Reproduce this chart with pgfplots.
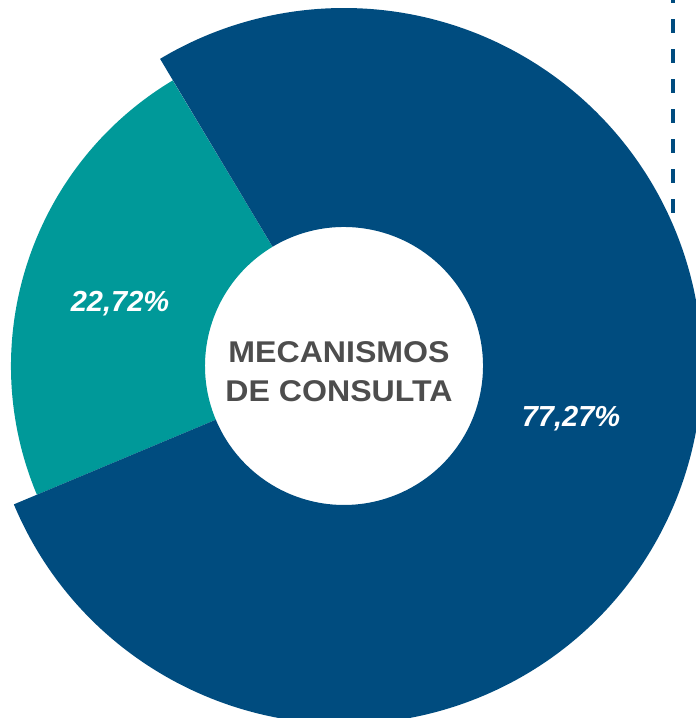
\documentclass[border=0pt]{standalone}
\usepackage{pgfplots}
\usepackage{pgfplotstable}
\pgfplotsset{compat=1.18}
\usepackage{fontspec}
\setmainfont{Liberation Sans}
\definecolor{cblue}{HTML}{004C7F}
\definecolor{cteal}{HTML}{009999}
\definecolor{cgray}{HTML}{4D4D4D}

\pgfplotstableread{
label value
Otros 22.72
Consulta 77.27
}\piedata

\begin{document}
\begin{tikzpicture}
\pgfplotstablegetelem{0}{value}\of\piedata \let\valA\pgfplotsretval
\pgfplotstablegetelem{1}{value}\of\piedata \let\valB\pgfplotsretval
\pgfmathsetmacro\aStart{120.95}
\pgfmathsetmacro\aMid{\aStart+3.6*\valA}
\pgfmathsetmacro\aEnd{\aMid+3.6*\valB}
\begin{axis}[name=ax, at={(0,0)}, anchor=south west,
  x=1pt, y=1pt, xmin=-344, xmax=352, ymin=-352, ymax=366,
  hide axis, clip=true]
% teal sector
\fill[cteal, shift={(axis cs:0,0)}] (\aStart:333pt) arc[start angle=\aStart, end angle=\aMid, radius=333pt]
  -- (\aMid:139pt) arc[start angle=\aMid, end angle=\aStart, radius=139pt] -- cycle;
% blue sector
\fill[cblue, shift={(axis cs:0,0)}] (\aMid:358pt) arc[start angle=\aMid, end angle=\aEnd, radius=358pt]
  -- (\aEnd:139pt) arc[start angle=\aEnd, end angle=\aMid, radius=139pt] -- cycle;
% dashed line
\addplot[cblue, line width=4.5pt, dash pattern=on 14pt off 16pt] coordinates {(329,153) (329,380)};
% labels
\node[anchor=base, text=white, font=\bfseries\itshape\fontsize{29}{29}\selectfont] at (axis cs:-224,54) {22,72\%};
\node[anchor=base, text=white, font=\bfseries\itshape\fontsize{29}{29}\selectfont] at (axis cs:227,-61) {77,27\%};
\node[anchor=base, text=cgray, xscale=1.07, font=\bfseries\fontsize{30}{30}\selectfont] at (axis cs:-5,3) {MECANISMOS};
\node[anchor=base, text=cgray, xscale=1.07, font=\bfseries\fontsize{30}{30}\selectfont] at (axis cs:-5,-36) {DE CONSULTA};
\end{axis}
\pgfresetboundingbox
\path (ax.south west) rectangle (ax.north east);
\end{tikzpicture}
\end{document}
